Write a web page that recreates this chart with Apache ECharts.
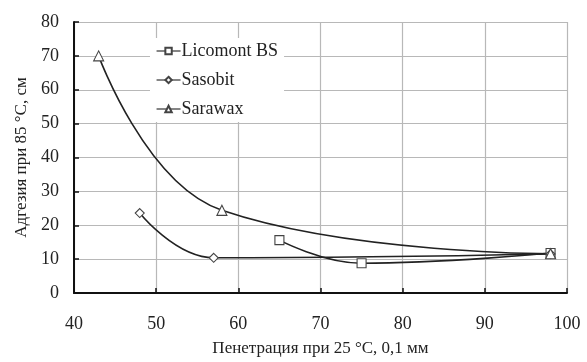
<!DOCTYPE html>
<html>
<head>
<meta charset="utf-8">
<script src="https://cdn.jsdelivr.net/npm/echarts@6/dist/echarts.min.js"></script>
<style>
  html, body { margin: 0; padding: 0; background: #fff; }
  #chart { width: 587px; height: 362px; }
</style>
</head>
<body>
<div id="chart"></div>
<script>
// data: [penetration, adhesion]
const seriesNames = ['Licomont BS', 'Sasobit', 'Sarawax']
const licomont = [[65, 15.6], [75, 8.8], [98, 11.8]]
const sasobit = [[48, 23.6], [57, 10.4], [98, 11.5]]
const sarawax = [[43, 70], [58, 24.4], [98, 11.6]]
const xTicks = [40, 100, 10]   // min, max, step
const yTicks = [0, 80, 10]

const font = 'Liberation Serif'
const ink = '#222'

const chart = echarts.init(document.getElementById('chart'))

function line(name, data, symbol, size) {
  return {
    name: name,
    type: 'line',
    data: data,
    smooth: 0.45,
    symbol: symbol,
    symbolSize: size,
    lineStyle: { color: ink, width: 1.6 },
    itemStyle: { color: '#fff', borderColor: '#444', borderWidth: 1.1 },
    z: 3
  }
}

chart.setOption({
  animation: false,
  textStyle: { fontFamily: font, color: ink },
  grid: { left: 74, right: 20, top: 22, bottom: 67 },
  legend: {
    orient: 'vertical',
    left: 150,
    top: 38,
    padding: [4, 6, 4, 6],
    backgroundColor: '#fff',
    itemWidth: 24,
    itemHeight: 8,
    itemGap: 11,
    lineStyle: { width: 1.1 },
    textStyle: { fontFamily: font, fontSize: 18, color: ink, padding: [0, 0, 0, -4] },
    data: seriesNames
  },
  xAxis: {
    type: 'value',
    min: xTicks[0], max: xTicks[1], interval: xTicks[2],
    name: 'Пенетрация при 25 °С, 0,1 мм',
    nameLocation: 'middle',
    nameGap: 47,
    nameTextStyle: { fontFamily: font, fontSize: 17, color: ink },
    axisLine: { lineStyle: { color: '#111', width: 2 } },
    axisTick: { inside: true, length: 5, lineStyle: { color: '#111', width: 1.5 } },
    axisLabel: { fontFamily: font, fontSize: 18, color: ink, margin: 22 },
    splitLine: { lineStyle: { color: '#b8b8b8', width: 1.2 } }
  },
  yAxis: {
    type: 'value',
    min: yTicks[0], max: yTicks[1], interval: yTicks[2],
    name: 'Адгезия при 85 °С, см',
    nameLocation: 'middle',
    nameGap: 41,
    nameTextStyle: { fontFamily: font, fontSize: 17, color: ink },
    axisLine: { show: true, lineStyle: { color: '#111', width: 2 } },
    axisTick: { show: true, inside: true, length: 5, lineStyle: { color: '#111', width: 1.5 } },
    axisLabel: { fontFamily: font, fontSize: 18, color: ink, margin: 15 },
    splitLine: { lineStyle: { color: '#b8b8b8', width: 1.2 } }
  },
  series: [
    line('Licomont BS', licomont, 'rect', 9),
    line('Sasobit', sasobit, 'diamond', 9),
    line('Sarawax', sarawax, 'triangle', 10)
  ]
})
</script>
</body>
</html>
